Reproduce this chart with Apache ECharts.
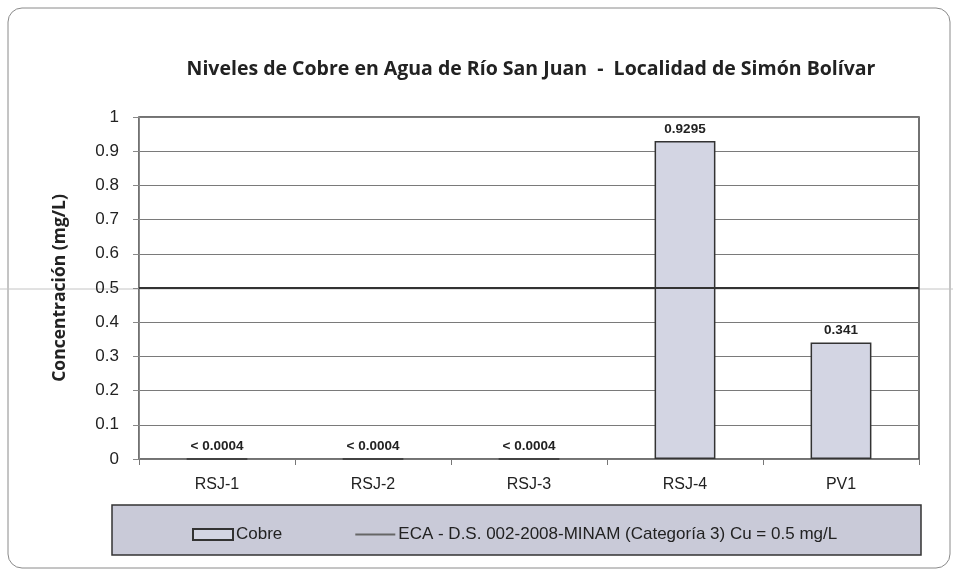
<!DOCTYPE html>
<html>
<head>
<meta charset="utf-8">
<script src="https://cdn.jsdelivr.net/npm/echarts@6/dist/echarts.min.js"></script>
<style>
  html, body { margin: 0; padding: 0; background: #ffffff; }
  #chart { width: 953px; height: 569px; }
</style>
</head>
<body>
<div id="chart"></div>
<script>
// Sampling stations along the Río San Juan
var categories = ['RSJ-1', 'RSJ-2', 'RSJ-3', 'RSJ-4', 'PV1'];
// Copper concentration (mg/L); values below detection are drawn at the detection limit
var cobre = [0.0004, 0.0004, 0.0004, 0.9295, 0.341];
var cobreLabels = ['< 0.0004', '< 0.0004', '< 0.0004', '0.9295', '0.341'];
// Environmental quality standard for Cu
var ecaLimit = 0.5;
var yTicks = [0, 0.1, 0.2, 0.3, 0.4, 0.5, 0.6, 0.7, 0.8, 0.9, 1];

var FONT = 'Liberation Sans';
var FONT_B = 'Open Sans';
var chart = echarts.init(document.getElementById('chart'), null, { renderer: 'canvas' });

var option = {
  backgroundColor: '#ffffff',
  animation: false,
  textStyle: { fontFamily: FONT, color: '#222' },
  title: {
    text: 'Niveles de Cobre en Agua de Río San Juan  -  Localidad de Simón Bolívar',
    left: 526,
    textAlign: 'center',
    top: 54,
    textStyle: { fontFamily: FONT_B, fontSize: 19.5, fontWeight: 'bold', color: '#222' }
  },
  graphic: [
    {
      type: 'rect', z: -10, silent: true,
      shape: { x: 8, y: 8, width: 942, height: 560, r: 14 },
      style: { fill: 'none', stroke: '#8a8a8a', lineWidth: 1 }
    },
    {
      type: 'line', z: -5, silent: true,
      shape: { x1: 0, y1: 289, x2: 953, y2: 289 },
      style: { stroke: '#c4c4c4', lineWidth: 1 }
    },
    {
      type: 'rect', z: -1, silent: true,
      shape: { x: 112, y: 505, width: 809, height: 50 },
      style: { fill: '#c9cad8', stroke: '#333333', lineWidth: 1.5 }
    }
  ],
  legend: {
    left: 187,
    top: 521,
    itemWidth: 40,
    itemHeight: 11,
    itemGap: 73,
    textStyle: { fontFamily: FONT, fontSize: 17, color: '#222', padding: [0, 0, 0, -2] },
    data: [
      { name: 'Cobre', icon: 'rect' },
      { name: 'ECA - D.S. 002-2008-MINAM (Categoría 3) Cu = 0.5 mg/L', icon: 'path://M0,0H40V2H0Z' }
    ]
  },
  grid: {
    left: 139, right: 34, top: 117, bottom: 110,
    show: true, borderColor: '#444', borderWidth: 1.5, backgroundColor: 'transparent'
  },
  xAxis: [
    {
      type: 'category',
      data: categories,
      axisLine: { lineStyle: { color: '#777', width: 1 } },
      axisTick: { show: true, length: 6, lineStyle: { color: '#777' } },
      axisLabel: { fontFamily: FONT, fontSize: 16, color: '#222', margin: 18 }
    },
    {
      type: 'category',
      data: ['', ''],
      boundaryGap: false,
      show: false
    }
  ],
  yAxis: {
    type: 'value',
    min: 0, max: 1, interval: 0.1,
    name: 'Concentración (mg/L)',
    nameLocation: 'middle',
    nameGap: 70,
    nameRotate: 90,
    nameTextStyle: { fontFamily: FONT_B, fontSize: 17.5, fontWeight: 'bold', color: '#222' },
    axisLine: { show: true, lineStyle: { color: '#888', width: 1 } },
    axisTick: { show: true, length: 6, lineStyle: { color: '#888' } },
    splitLine: { lineStyle: { color: '#7a7a7a', width: 1 } },
    axisLabel: {
      fontFamily: FONT, fontSize: 17, color: '#222', margin: 20,
      formatter: function (v) {
        var t = yTicks.find(function (x) { return Math.abs(x - v) < 1e-9; });
        return t === undefined ? '' : String(t);
      }
    }
  },
  series: [
    {
      name: 'Cobre',
      type: 'bar',
      data: cobre,
      barWidth: '39%',
      itemStyle: { color: '#d3d5e3', borderColor: '#333', borderWidth: 1.5 },
      label: {
        show: true,
        position: 'top',
        distance: 5,
        fontFamily: FONT,
        fontSize: 13.5,
        fontWeight: 'bold',
        color: '#222',
        formatter: function (p) { return cobreLabels[p.dataIndex]; }
      },
      z: 3
    },
    {
      name: 'ECA - D.S. 002-2008-MINAM (Categoría 3) Cu = 0.5 mg/L',
      type: 'line',
      xAxisIndex: 1,
      data: [ecaLimit, ecaLimit],
      symbol: 'none',
      lineStyle: { color: '#333', width: 2 },
      itemStyle: { color: '#666' },
      z: 4
    }
  ]
};

chart.setOption(option);
</script>
</body>
</html>
